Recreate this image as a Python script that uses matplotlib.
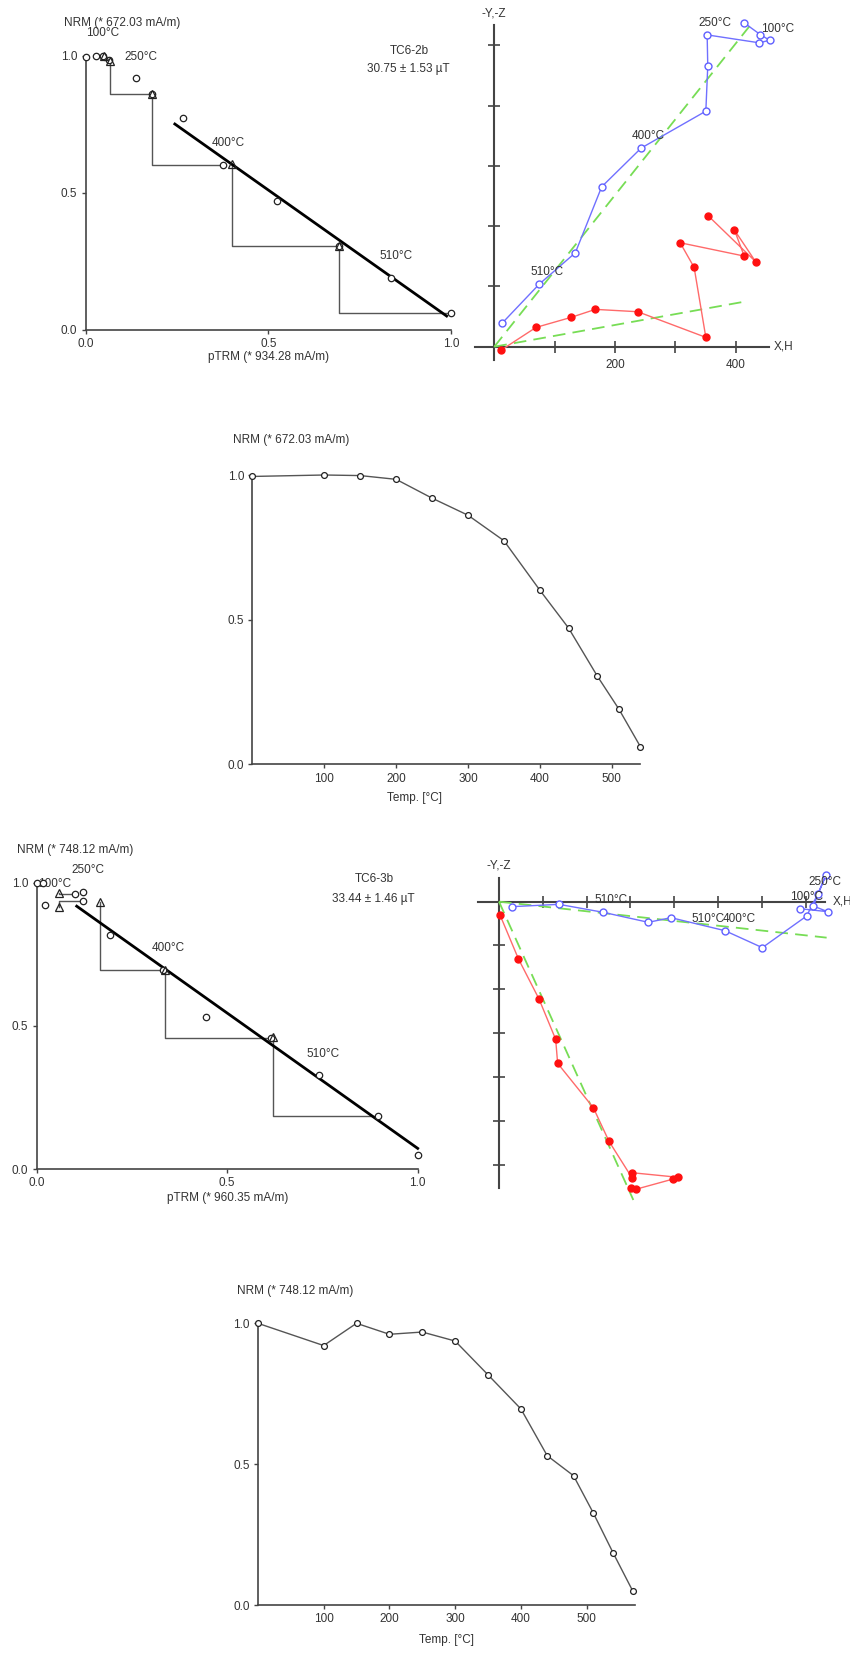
import matplotlib
matplotlib.use("Agg")
import matplotlib.pyplot as plt

plt.rcParams['font.family'] = ['Liberation Sans', 'DejaVu Sans']
plt.rcParams['font.size'] = 8.5

W, H = 850, 1653

# ---- specimen TC6-2b ----
arai1_ptrm = [0.0, 0.027, 0.048, 0.065, 0.138, 0.182, 0.266, 0.376, 0.523, 0.694, 0.836, 1.0]
arai1_nrm = [0.995, 1.0, 1.0, 0.985, 0.92, 0.861, 0.773, 0.602, 0.471, 0.305, 0.191, 0.061]
check1_x = [0.05, 0.067, 0.182, 0.401, 0.694]
check1_y = [1.0, 0.982, 0.859, 0.604, 0.306]
check1_step = [3, 5, 7, 9, 11]
fit1_x = [0.244, 0.988]
fit1_y = [0.751, 0.051]

temp1 = [0, 100, 150, 200, 250, 300, 350, 400, 440, 480, 510, 540]
demag1 = [0.995, 1.0, 0.998, 0.985, 0.92, 0.861, 0.773, 0.602, 0.471, 0.305, 0.191, 0.061]

zij1_x_h = [414.4, 441, 456.4, 439.8, 353, 354, 350.8, 243.4, 178.1, 134.4, 74.7, 12.7]
zij1_y_h = [537, 517.7, 508.3, 503.9, 517.1, 465.2, 390.6, 329.3, 265.2, 155.8, 103.9, 38.7]
zij1_x_v = [355.2, 433.2, 398.3, 414.4, 308.2, 331.4, 350.8, 237.9, 167.6, 127.2, 69.2, 11.6]
zij1_z_v = [216.6, 141.2, 193.4, 150.3, 172.4, 131.5, 15.5, 58, 61.9, 48.6, 32, -5.5]
zij1_fit_h = (424.4, 533)
zij1_fit_v = (414.4, 74.6)

# ---- specimen TC6-3b ----
arai2_ptrm = [0.0, 0.022, 0.017, 0.1, 0.122, 0.122, 0.192, 0.332, 0.444, 0.614, 0.741, 0.897, 1.0]
arai2_nrm = [1.0, 0.921, 1.0, 0.961, 0.969, 0.937, 0.817, 0.696, 0.530, 0.459, 0.327, 0.186, 0.050]
check2_x = [0.059, 0.059, 0.166, 0.337, 0.619]
check2_y = [0.963, 0.916, 0.934, 0.695, 0.46]
check2_step = [3, 5, 7, 9, 11]
fit2_x = [0.105, 1.0]
fit2_y = [0.918, 0.072]

temp2 = [0, 100, 150, 200, 250, 300, 350, 400, 440, 480, 510, 540, 570]
demag2 = [1.0, 0.921, 1.0, 0.961, 0.969, 0.937, 0.817, 0.696, 0.530, 0.459, 0.327, 0.186, 0.050]

zij2_x_h = [686.7, 749.8, 717.1, 746.0, 727.0, 701.9, 600.8, 515.6, 392.4, 340.7, 238.0, 136.9, 28.9]
zij2_y_h = [-16.0, -22.8, -9.9, 60.8, 16.7, -32.7, -104.9, -66.2, -36.5, -47.1, -24.3, -6.1, -11.4]
zij2_x_v = [300.4, 311.8, 397.7, 409.1, 302.7, 304.2, 251.0, 215.2, 133.8, 129.3, 91.3, 44.1, 2.3]
zij2_z_v = [-654.0, -656.3, -632.7, -628.9, -618.3, -631.2, -546.8, -470.0, -368.8, -314.1, -222.1, -130.0, -30.4]
zij2_fit_h = (747.5, -82.1)
zij2_fit_v = (306.5, -680.6)

AX_COL = '#444444'
TXT_COL = '#333333'


def px_axes(fig, x0, x1, y_top, y_bot):
    return fig.add_axes([x0 / W, 1 - y_bot / H, (x1 - x0) / W, (y_bot - y_top) / H])


def style_xy(ax):
    for s in ['top', 'right']:
        ax.spines[s].set_visible(False)
    for s in ['left', 'bottom']:
        ax.spines[s].set_color(AX_COL)
        ax.spines[s].set_linewidth(1.2)
    ax.tick_params(length=3, width=1, color=AX_COL, labelcolor=TXT_COL, labelsize=8.5, pad=3)
    ax.patch.set_alpha(0)


def arai(ax, ptrm, nrm, cx, cy, steps, fx, fy, nrm_label, ptrm_label, name, field, labels):
    ax.set_xlim(0, 1)
    ax.set_ylim(0, 1)
    style_xy(ax)
    ax.set_xticks([0, 0.5, 1.0])
    ax.set_yticks([0, 0.5, 1.0])
    ax.set_xticklabels(['0.0', '0.5', '1.0'])
    ax.set_yticklabels(['0.0', '0.5', '1.0'])
    # pTRM check connectors
    for x, y, k in zip(cx, cy, steps):
        ax.plot([ptrm[k], x, x], [nrm[k], nrm[k], y], color='#555555', lw=1, clip_on=False, zorder=2)
    ax.plot(fx, fy, color='black', lw=2, clip_on=False, zorder=3)
    ax.plot(ptrm, nrm, 'o', ms=4.6, mfc='white', mec='#222222', mew=0.9, clip_on=False, zorder=4)
    ax.plot(cx, cy, '^', ms=5.5, mfc='none', mec='#222222', mew=0.9, clip_on=False, zorder=5)
    ax.text(*nrm_label[1], nrm_label[0], ha='center', va='center', color=TXT_COL)
    ax.text(*ptrm_label[1], ptrm_label[0], ha='center', va='center', color=TXT_COL,
            transform=ax.transAxes)
    ax.text(name[1][0], name[1][1], name[0], ha='center', va='center', color=TXT_COL)
    ax.text(field[1][0], field[1][1], field[0], ha='center', va='center', color=TXT_COL)
    for t, (x, y) in labels:
        ax.text(x, y, t, ha='center', va='center', color=TXT_COL)


def demag(ax, temp, val, xmax, nrm_label, temp_label):
    ax.set_xlim(0, xmax)
    ax.set_ylim(0, 1)
    style_xy(ax)
    ax.set_xticks([100, 200, 300, 400, 500])
    ax.set_yticks([0, 0.5, 1.0])
    ax.set_yticklabels(['0.0', '0.5', '1.0'])
    ax.plot(temp, val, '-', color='#555555', lw=1, clip_on=False, zorder=3)
    ax.plot(temp, val, 'o', ms=4.2, mfc='white', mec='#222222', mew=0.9, clip_on=False, zorder=4)
    ax.text(*nrm_label[1], nrm_label[0], ha='center', va='center', color=TXT_COL,
            transform=ax.transAxes)
    ax.text(*temp_label[1], temp_label[0], ha='center', va='center', color=TXT_COL,
            transform=ax.transAxes)


def zijderveld(ax, ox, oy, scale, box, xh, yh, xv, zv, fit_h, fit_v, xrng, yrng,
               xticks, yticks, xlabels, labels, xh_pos, yz_pos):
    x0, x1, yt, yb = box
    ax.set_xlim((x0 - ox) / scale, (x1 - ox) / scale)
    ax.set_ylim((oy - yb) / scale, (oy - yt) / scale)
    ax.axis('off')
    ax.plot(xrng, [0, 0], color=AX_COL, lw=1.5, zorder=1)
    ax.plot([0, 0], yrng, color=AX_COL, lw=1.5, zorder=1)
    ax.plot(xticks, [0] * len(xticks), '|', ms=8, mew=1.2, color=AX_COL, zorder=1)
    ax.plot([0] * len(yticks), yticks, '_', ms=8, mew=1.2, color=AX_COL, zorder=1)
    for v, t in xlabels:
        ax.text(v, -31, t, ha='center', va='center', color=TXT_COL)
    ax.plot([0, fit_h[0]], [0, fit_h[1]], '--', color='#77dd55', lw=1.3, dashes=(7, 4), zorder=2)
    ax.plot([0, fit_v[0]], [0, fit_v[1]], '--', color='#77dd55', lw=1.3, dashes=(7, 4), zorder=2)
    ax.plot(xh, yh, '-', color='#7070ff', lw=1, zorder=3)
    ax.plot(xh, yh, 'o', ms=5, mfc='white', mec='#6060ff', mew=1, zorder=4)
    ax.plot(xv, zv, '-', color='#ff6a6a', lw=1, zorder=3)
    ax.plot(xv, zv, 'o', ms=5, color='#ff1010', zorder=4)
    for t, (x, y) in labels:
        ax.text(x, y, t, ha='center', va='center', color=TXT_COL, zorder=5)
    ax.text(xh_pos[0], xh_pos[1], 'X,H', ha='left', va='center', color=TXT_COL)
    ax.text(yz_pos[0], yz_pos[1], '-Y,-Z', ha='center', va='center', color=TXT_COL)


fig = plt.figure(figsize=(W / 100, H / 100), dpi=100)

ax = px_axes(fig, 85.7, 451, 55.7, 330)
arai(ax, arai1_ptrm, arai1_nrm, check1_x, check1_y, check1_step, fit1_x, fit1_y,
     ('NRM (* 672.03 mA/m)', (0.099, 1.119)), ('pTRM (* 934.28 mA/m)', (0.5, -0.1)),
     ('TC6-2b', (0.886, 1.018)), ('30.75 ± 1.53 µT', (0.883, 0.95)),
     [('100°C', (0.046, 1.081)), ('250°C', (0.15, 0.996)),
      ('400°C', (0.389, 0.68)), ('510°C', (0.849, 0.27))])

ax = px_axes(fig, 465, 790, 5, 380)
zijderveld(ax, 494.3, 346.7, 0.603, (465, 790, 5, 380),
           zij1_x_h, zij1_y_h, zij1_x_v, zij1_z_v, zij1_fit_h, zij1_fit_v,
           [-32, 455], [-22, 533], [100, 200, 300, 400], [100, 200, 300, 400, 500],
           [(200, '200'), (400, '400')],
           [('250°C', (366, 536)), ('100°C', (470, 527.6)),
            ('400°C', (255.6, 349)), ('510°C', (88, 124.3))],
           (463, 0), (0, 552))

ax = px_axes(fig, 252.45, 640.4, 475, 764.3)
demag(ax, temp1, demag1, 540, ('NRM (* 672.03 mA/m)', (0.1, 1.12)),
      ('Temp. [°C]', (0.417, -0.115)))

ax = px_axes(fig, 36.7, 417.7, 882.7, 1169)
arai(ax, arai2_ptrm, arai2_nrm, check2_x, check2_y, check2_step, fit2_x, fit2_y,
     ('NRM (* 748.12 mA/m)', (0.1, 1.114)), ('pTRM (* 960.35 mA/m)', (0.5, -0.1)),
     ('TC6-3b', (0.885, 1.013)), ('33.44 ± 1.46 µT', (0.884, 0.944)),
     [('100°C', (0.048, 0.995)), ('250°C', (0.135, 1.044)),
      ('400°C', (0.346, 0.773)), ('510°C', (0.752, 0.402))])

ax = px_axes(fig, 470, 850, 855, 1215)
zijderveld(ax, 499, 901.67, 0.4383, (470, 850, 855, 1215),
           zij2_x_h, zij2_y_h, zij2_x_v, zij2_z_v, zij2_fit_h, zij2_fit_v,
           [-47, 744], [-654, 53], [100, 200, 300, 400, 500, 600, 700],
           [-100, -200, -300, -400, -500, -600],
           [],
           [('510°C', (254.8, 3.8)), ('100°C', (701.9, 11.4)), ('250°C', (743.7, 45.6)),
            ('510°C', (478.0, -39.5)), ('400°C', (548.0, -39.5))],
           (761, 0), (0, 81.7))

ax = px_axes(fig, 257.9, 635, 1323.3, 1605)
demag(ax, temp2, demag2, 573.5, ('NRM (* 748.12 mA/m)', (0.1, 1.115)),
      ('Temp. [°C]', (0.5, -0.125)))

fig.savefig('out.png', dpi=100)
